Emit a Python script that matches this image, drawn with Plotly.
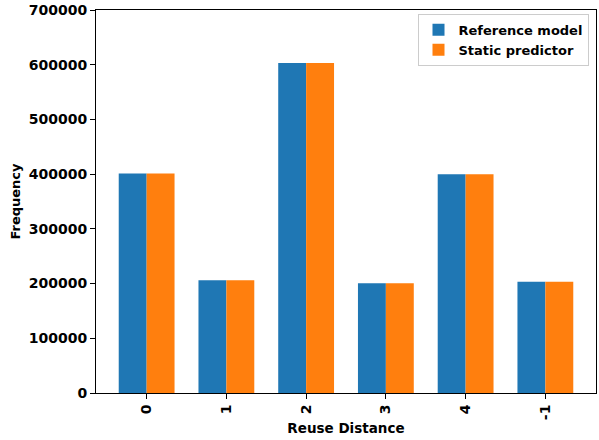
import plotly.graph_objects as go

categories = ["0", "1", "2", "3", "4", "-1"]
reference_model = [401000, 206000, 603000, 200500, 400000, 203500]
static_predictor = [401000, 206000, 603000, 200500, 400000, 203500]
y_ticks = [0, 100000, 200000, 300000, 400000, 500000, 600000, 700000]

fig = go.Figure()
fig.add_trace(go.Bar(x=categories, y=reference_model, name="<b>Reference model</b>",
                     marker=dict(color="#1f77b4", line=dict(width=0))))
fig.add_trace(go.Bar(x=categories, y=static_predictor, name="<b>Static predictor</b>",
                     marker=dict(color="#ff7f0e", line=dict(width=0))))

fig.update_layout(
    width=599, height=440,
    margin=dict(l=96, r=3, t=10, b=47, autoexpand=False),
    paper_bgcolor="white", plot_bgcolor="white",
    barmode="group", bargap=0.3, bargroupgap=0,
    font=dict(family="DejaVu Sans", size=13, color="black"),
    legend=dict(x=0.985, y=0.99, xanchor="right", yanchor="top",
                bordercolor="#cccccc", borderwidth=1, bgcolor="rgba(255,255,255,0.8)",
                font=dict(family="DejaVu Sans", size=13, color="black"),
                tracegroupgap=0, itemwidth=30),
    showlegend=True,
)
fig.update_xaxes(
    type="category", range=[-0.635, 5.635], automargin=False,
    tickvals=categories, ticktext=["<b>%s</b>" % c for c in categories],
    showline=True, linecolor="black", linewidth=1, mirror=True,
    ticks="outside", ticklen=5, tickcolor="black", tickangle=-90,
    tickfont=dict(family="DejaVu Sans", size=14, color="black"),
    title=dict(text="<b>Reuse Distance</b>", standoff=4,
               font=dict(family="DejaVu Sans", size=13.5, color="black")),
    showgrid=False, zeroline=False,
)
fig.update_yaxes(
    range=[0, 700000], tickvals=y_ticks, ticktext=["<b>%d</b>" % v for v in y_ticks],
    automargin=False,
    showline=True, linecolor="black", linewidth=1, mirror=True,
    ticks="outside", ticklen=5, tickcolor="black",
    tickfont=dict(family="DejaVu Sans", size=14, color="black"),
    title=dict(text="<b>Frequency</b>", standoff=5,
               font=dict(family="DejaVu Sans", size=13, color="black")),
    showgrid=False, zeroline=False,
)

fig.write_html("out.html", config={"displayModeBar": False},
               post_script="document.body.style.margin='0';")
